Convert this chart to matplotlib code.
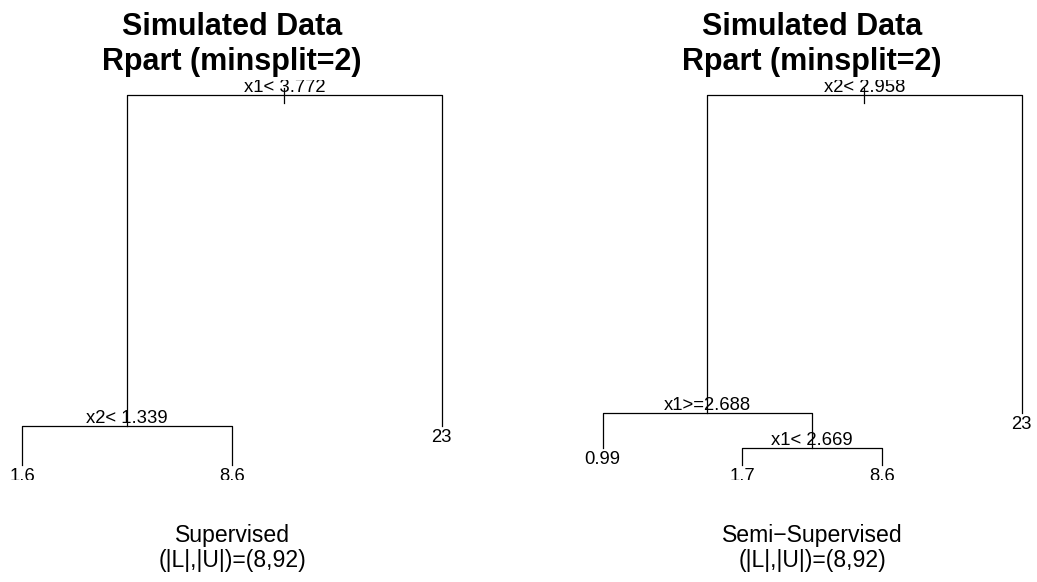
import matplotlib
matplotlib.use('Agg')
import matplotlib.pyplot as plt

plt.rcParams['font.family'] = ['Liberation Sans', 'DejaVu Sans']

# trees, nodes listed in preorder (left child first)
sup_labels = ['x1< 3.772', 'x2< 1.339', '1.6', '8.6', '23']
sup_height = [1.0, 0.105, 0.0, 0.0, 0.105]
sup_leaf = [False, False, True, True, True]

semi_labels = ['x2< 2.958', 'x1>=2.688', '0.99', 'x1< 2.669', '1.7', '8.6', '23']
semi_height = [1.0, 0.141, 0.046, 0.046, 0.0, 0.0, 0.141]
semi_leaf = [False, False, True, False, True, True, True]

title_lines = ['Simulated Data', 'Rpart (minsplit=2)']
method_names = ['Supervised', 'Semi\u2212Supervised']
sample_note = '(|L|,|U|)=(8,92)'


def layout(leaf):
    # leaves on 1..n, split nodes midway between their children
    xs = [0.0] * len(leaf)
    kids = {}
    count = [0]

    def walk(i):
        if leaf[i]:
            count[0] += 1
            xs[i] = count[0]
            return i + 1
        l = i + 1
        r = walk(l)
        nxt = walk(r)
        kids[i] = (l, r)
        xs[i] = (xs[l] + xs[r]) / 2
        return nxt

    walk(0)
    return xs, kids


def draw_tree(ax, labels, height, leaf):
    xs, kids = layout(leaf)
    ax.plot([xs[0], xs[0]], [height[0] + 0.019, height[0] - 0.022], color='k', lw=0.9)
    for p, (l, r) in kids.items():
        ax.plot([xs[l], xs[l], xs[r], xs[r]],
                [height[l], height[p], height[p], height[r]], color='k', lw=0.9)
    for i, lab in enumerate(labels):
        if leaf[i]:
            ax.annotate(lab, (xs[i], height[i]), xytext=(0, -3), textcoords='offset pixels',
                        ha='center', va='top', fontsize=13.3, clip_on=True)
        else:
            ax.annotate(lab, (xs[i], height[i]), xytext=(0, 3), textcoords='offset pixels',
                        ha='center', va='baseline', fontsize=13.3, clip_on=True)
    n = sum(leaf)
    return n


W, H = 1037, 582
fig = plt.figure(figsize=(W / 100, H / 100), dpi=100)

panels = [(sup_labels, sup_height, sup_leaf, 232),
          (semi_labels, semi_height, semi_leaf, 812)]

for k, (labels, height, leaf, cx) in enumerate(panels):
    half = 232
    ax = fig.add_axes([(cx - half) / W, (H - 480) / H, 2 * half / W, 400 / H])
    n = draw_tree(ax, labels, height, leaf)
    unit = 419 / (n - 1)
    mid = (1 + n) / 2
    ax.set_xlim(mid - half / unit, mid + half / unit)
    ax.set_ylim(-0.0405, 1.0405)
    ax.axis('off')

    fig.text(cx / W, 1 - 35 / H, title_lines[0], ha='center', va='baseline',
             fontsize=22, fontweight='bold')
    fig.text(cx / W, 1 - 70 / H, title_lines[1], ha='center', va='baseline',
             fontsize=22, fontweight='bold')
    fig.text(cx / W, 1 - 542 / H, method_names[k], ha='center', va='baseline', fontsize=16.6)
    fig.text(cx / W, 1 - 567 / H, sample_note, ha='center', va='baseline', fontsize=16.6)

fig.savefig('out.png', dpi=100)
